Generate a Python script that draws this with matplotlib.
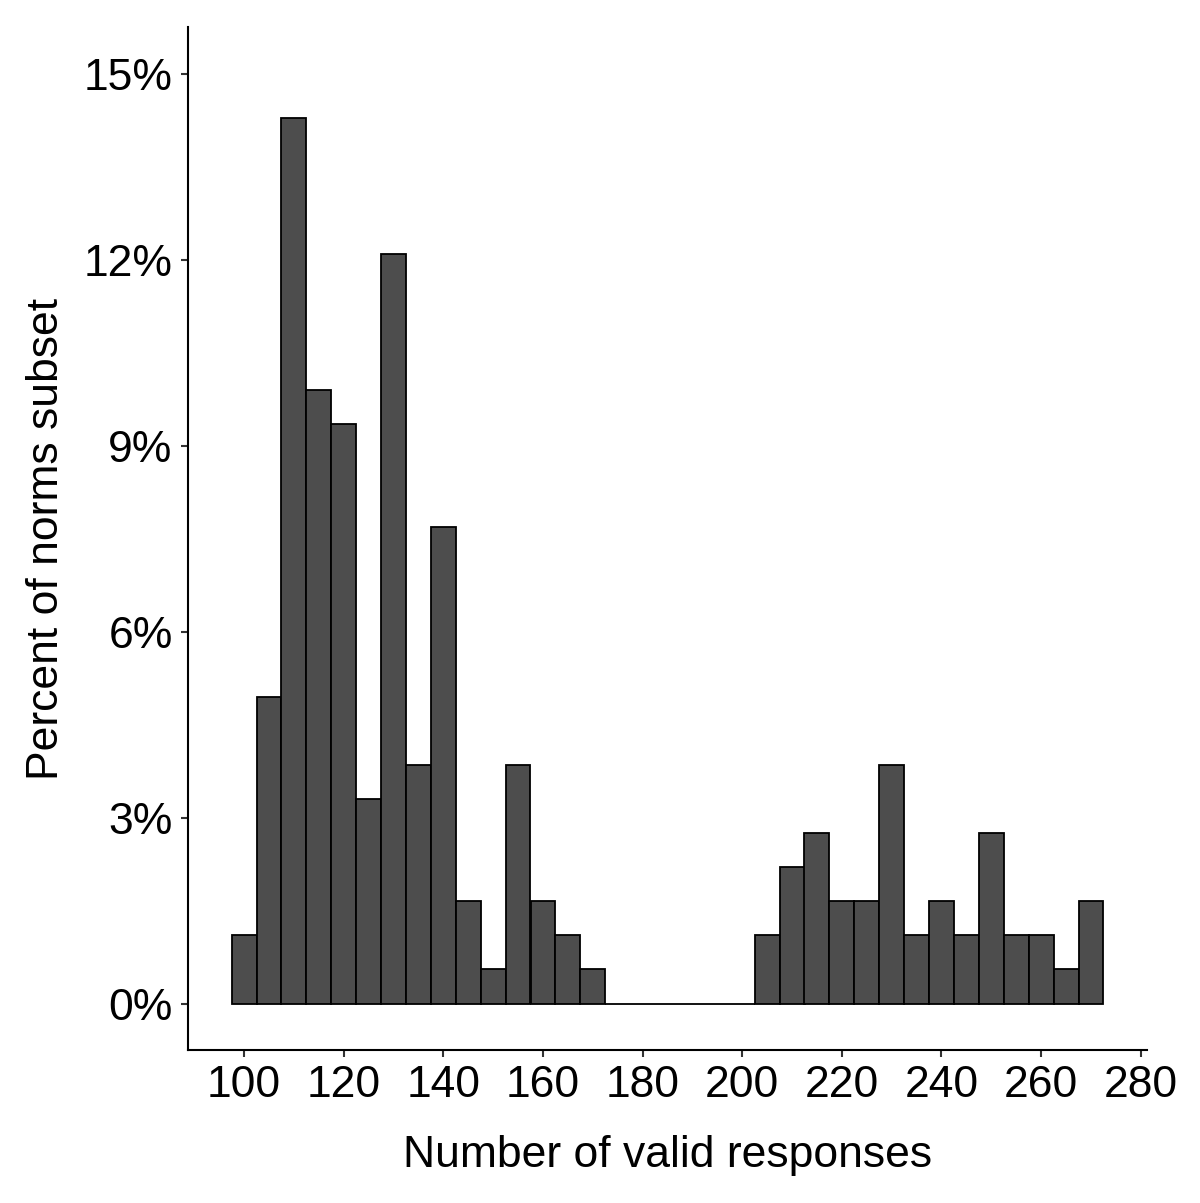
import matplotlib
matplotlib.use("Agg")
import matplotlib.pyplot as plt
from matplotlib.ticker import FuncFormatter
import numpy as np

plt.rcParams['font.family'] = ['Liberation Sans', 'DejaVu Sans']

# Histogram bins (width 5) centered on these values
bin_centers = [100, 105, 110, 115, 120, 125, 130, 135, 140, 145, 150, 155, 160, 165, 170,
               175, 180, 185, 190, 195, 200,
               205, 210, 215, 220, 225, 230, 235, 240, 245, 250, 255, 260, 265, 270]
counts = [2, 9, 26, 18, 17, 6, 22, 7, 14, 3, 1, 7, 3, 2, 1,
          0, 0, 0, 0, 0, 0,
          2, 4, 5, 3, 3, 7, 2, 3, 2, 5, 2, 2, 1, 3]
bin_width = 5
x_ticks = [100, 120, 140, 160, 180, 200, 220, 240, 260, 280]
y_ticks = [0, 3, 6, 9, 12, 15]

percents = np.array(counts) / sum(counts) * 100

fig = plt.figure(figsize=(12, 12.03), dpi=100)
ax = fig.add_axes([188/1200, 1 - 1050/1203, (1147-188)/1200, (1050-27)/1203])

ax.bar(bin_centers, percents, width=bin_width, color='#4d4d4d', edgecolor='black',
       linewidth=1.3, align='center')

ax.set_xlim(88.75, 281.25)
ax.set_ylim(-0.75, 15.75)
ax.set_xticks(x_ticks)
ax.set_yticks(y_ticks)
ax.yaxis.set_major_formatter(FuncFormatter(lambda v, p: f"{int(v)}%"))

for s in ['top', 'right']:
    ax.spines[s].set_visible(False)
for s in ['left', 'bottom']:
    ax.spines[s].set_linewidth(1.5)
    ax.spines[s].set_color('black')

ax.tick_params(axis='both', length=5, width=1.5, color='#333333', labelsize=32,
               labelcolor='black', pad=6)

ax.set_xlabel('Number of valid responses', fontsize=32, labelpad=21)
ax.set_ylabel('Percent of norms subset', fontsize=32, labelpad=12)

fig.savefig('out.png', dpi=100, facecolor='white')
